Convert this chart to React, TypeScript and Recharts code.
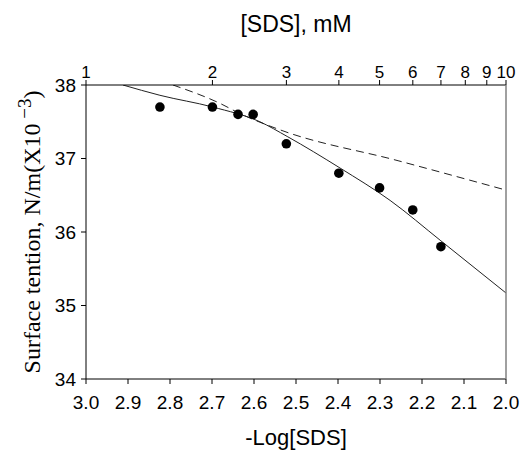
import { ComposedChart, Line, Scatter, XAxis, YAxis, Label } from 'recharts'

// measured points: -log[SDS] vs surface tension
const logSds = [2.824, 2.699, 2.638, 2.602, 2.523, 2.398, 2.301, 2.222, 2.155]
const tension = [37.7, 37.7, 37.6, 37.6, 37.2, 36.8, 36.6, 36.3, 35.8]

// fitted curve (solid)
const fitX = [2.912, 2.824, 2.698, 2.586, 2.521, 2.395, 2.276, 2.155, 2.0]
const fitY = [38.0, 37.86, 37.7, 37.5, 37.3, 36.87, 36.43, 35.88, 35.17]

// dashed line
const dashX = [2.793, 2.681, 2.633, 2.538, 2.257, 2.0]
const dashY = [38.0, 37.75, 37.61, 37.39, 36.97, 36.57]

const bottomTicks = [3.0, 2.9, 2.8, 2.7, 2.6, 2.5, 2.4, 2.3, 2.2, 2.1, 2.0]
const topTickLabels = [1, 2, 3, 4, 5, 6, 7, 8, 9, 10]
const yTicks = [34, 35, 36, 37, 38]

const points = logSds.map((x, i) => ({ x, y: tension[i] }))
const fit = fitX.map((x, i) => ({ x, y: fitY[i] }))
const dash = dashX.map((x, i) => ({ x, y: dashY[i] }))
// mM on top axis sits at 3 - log10(c) on the same scale
const topTicks = topTickLabels.map(c => 3 - Math.log10(c))

const sans = '"Liberation Sans", Arial, sans-serif'
const serif = '"Liberation Serif", "Times New Roman", serif'

const Dot = (props: any) => {
	const { cx, cy } = props
	return <circle cx={cx} cy={cy} r={4.8} fill="#000" />
}

const App = () => {
	// drop the body margin so the chart covers the whole 520x450 window
	return (
		<>
			<style>{'body{margin:0}'}</style>
			<ComposedChart
				width={520}
				height={450}
				margin={{ top: 55, right: 13, bottom: 41, left: 56 }}
			>
				<XAxis
					xAxisId="b"
					dataKey="x"
					type="number"
					domain={[2, 3]}
					reversed
					ticks={bottomTicks}
					interval={0}
					tickFormatter={(v: number) => v.toFixed(1)}
					height={30}
					tickSize={5}
					tickMargin={12}
					stroke="#000"
					tick={{ fill: '#000', fontSize: 19, fontFamily: sans }}
					allowDataOverflow
				>
					<Label
						content={(p: any) => {
							const vb = p.viewBox
							return (
								<text x={vb.x + vb.width / 2} y={445} textAnchor="middle"
									fontSize={22} fontFamily={sans} fill="#000">-Log[SDS]</text>
							)
						}}
					/>
				</XAxis>
				<XAxis
					xAxisId="t"
					orientation="top"
					dataKey="x"
					type="number"
					domain={[2, 3]}
					reversed
					ticks={topTicks}
					interval={0}
					tickFormatter={(v: number) => String(Math.round(Math.pow(10, 3 - v)))}
					height={30}
					tickSize={5}
					tickMargin={2}
					stroke="#000"
					tick={{ fill: '#000', fontSize: 17, fontFamily: sans }}
					allowDataOverflow
				>
					<Label
						content={(p: any) => {
							const vb = p.viewBox
							return (
								<text x={vb.x + vb.width / 2} y={32} textAnchor="middle"
									fontSize={23} fontFamily={sans} fill="#000">[SDS], mM</text>
							)
						}}
					/>
				</XAxis>
				<YAxis
					yAxisId="l"
					type="number"
					domain={[34, 38]}
					ticks={yTicks}
					interval={0}
					width={30}
					tickSize={5}
					tickMargin={5}
					stroke="#000"
					tick={{ fill: '#000', fontSize: 19, fontFamily: sans }}
					allowDataOverflow
				>
					<Label
						content={(p: any) => {
							const vb = p.viewBox
							const cy = vb.y + vb.height / 2
							return (
								<text transform={`translate(40,${cy}) rotate(-90)`} x={0} y={0}
									textAnchor="middle" fontSize={24} fontFamily={serif} fill="#000">
									Surface tention, N/m(X10
									<tspan dy={-9} fontSize={19}> {'\u2212'}3</tspan>
									<tspan dy={9}>)</tspan>
								</text>
							)
						}}
					/>
				</YAxis>
				<YAxis
					yAxisId="r"
					orientation="right"
					type="number"
					domain={[34, 38]}
					width={1}
					tick={false}
					tickLine={false}
					axisLine={{ stroke: '#808080', strokeWidth: 1.5 }}
				/>
				<Line
					xAxisId="b"
					yAxisId="l"
					data={dash}
					dataKey="y"
					type="monotone"
					stroke="#222"
					strokeWidth={1}
					strokeDasharray="8 5"
					dot={false}
					activeDot={false}
					isAnimationActive={false}
				/>
				<Line
					xAxisId="b"
					yAxisId="l"
					data={fit}
					dataKey="y"
					type="monotone"
					stroke="#222"
					strokeWidth={1}
					dot={false}
					activeDot={false}
					isAnimationActive={false}
				/>
				<Scatter
					xAxisId="b"
					yAxisId="l"
					data={points}
					dataKey="y"
					fill="#000"
					shape={<Dot />}
					isAnimationActive={false}
				/>
			</ComposedChart>
		</>
	)
}

export default App
